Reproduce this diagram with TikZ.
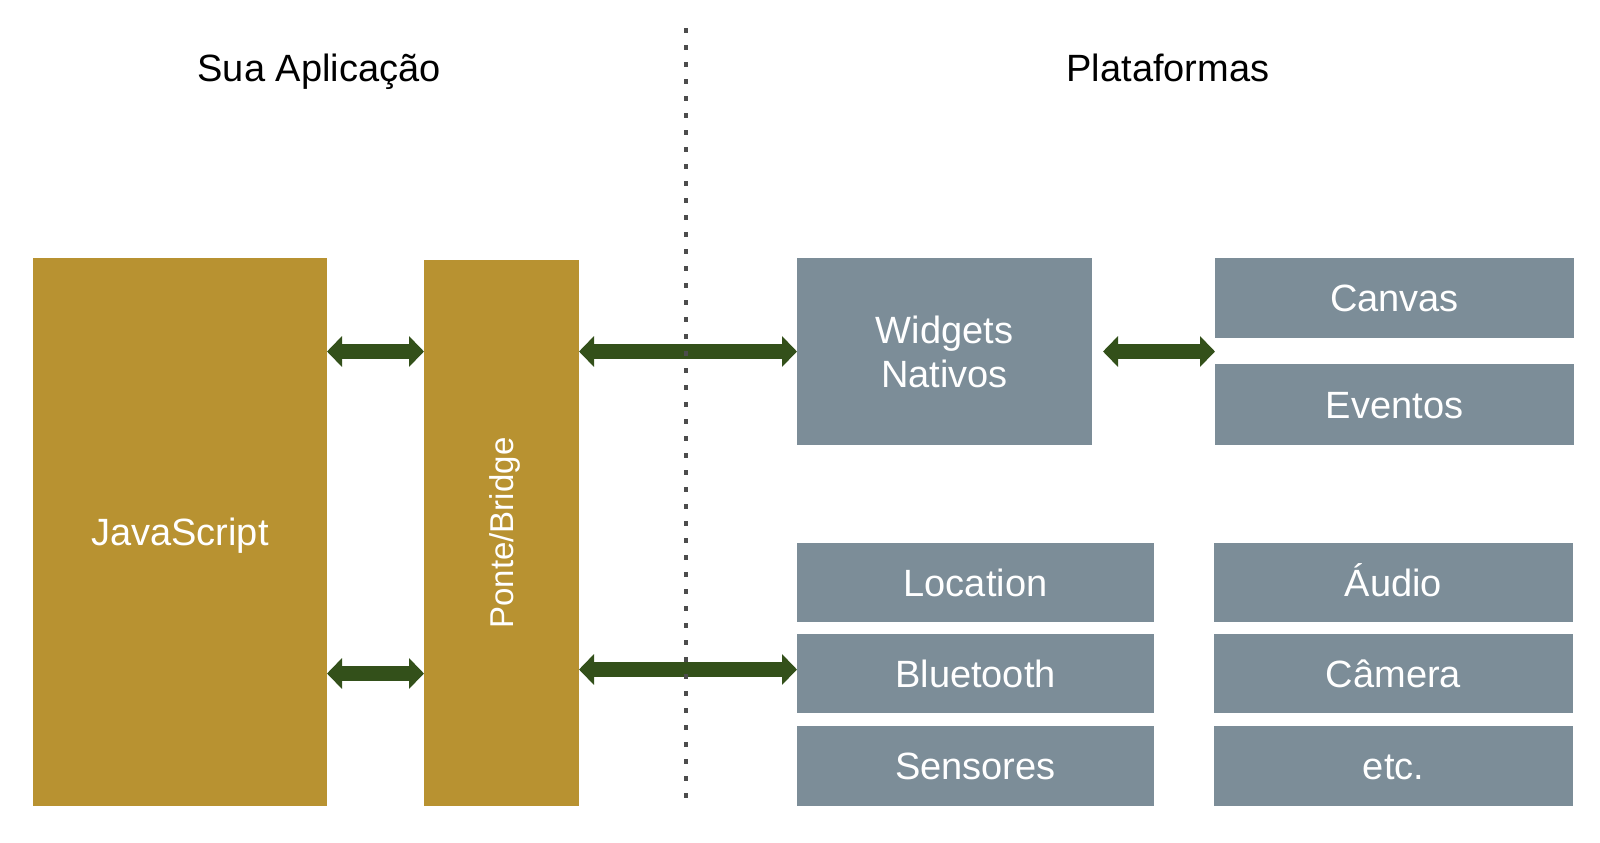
\documentclass[tikz,border=0pt]{standalone}
\usepackage{fontspec}
\setmainfont{Liberation Sans}
\usetikzlibrary{arrows.meta,positioning}
\definecolor{gold}{RGB}{184,146,49}
\definecolor{slate}{RGB}{124,141,152}
\definecolor{darkgreen}{RGB}{51,80,26}
\tikzset{
  block/.style={fill=#1, text=white, inner sep=0pt, outer sep=0pt, align=center,
    text height=13.6pt, text depth=0pt, font=\fontsize{19}{22}\selectfont},
  biarrow/.style={draw=darkgreen, line width=7.5pt,
    {Triangle[width=15pt,length=7.5pt]}-{Triangle[width=15pt,length=7.5pt]}},
  dotline/.style={draw=black!70, line width=2.4pt, dash pattern=on 2.4pt off 6.1pt}
}
\begin{document}
\begin{tikzpicture}[x=0.5pt, y=-0.5pt]
  \useasboundingbox (0,0) rectangle (1600,842);

  % Titles
  \node[anchor=base, font=\fontsize{19}{22}\selectfont] (app) at (319,81) {Sua Aplicação};
  \node[anchor=base, font=\fontsize{19}{22}\selectfont] (plat) at (1168,81) {Plataformas};

  % Application side
  \node[block=gold, minimum width=147pt, minimum height=274pt] (js) at (180,532) {JavaScript};
  \node[block=gold, minimum width=77.5pt, minimum height=273pt] (br) at (501.5,533) {};
  \node[text=white, rotate=90, inner sep=0pt, text height=11.8pt, text depth=0pt,
    font=\fontsize{16.5}{20}\selectfont] at (br.center) {Ponte/Bridge};

  % Platform side
  \node[block=slate, text height=, text depth=, minimum width=147.5pt, minimum height=93.5pt] (wid) at (944.5,351.5) {Widgets\\Nativos};
  \node[block=slate, minimum width=179.5pt, minimum height=40pt] (canvas) at (1394.5,298) {Canvas};
  \node[block=slate, minimum width=179.5pt, minimum height=40.5pt] (ev) at (1394.5,404.5) {Eventos};

  \node[block=slate, minimum width=178.5pt, minimum height=39.5pt] (loc) at (975.5,582.5) {Location};
  \node[block=slate, minimum width=178.5pt, minimum height=39.5pt] (blue) at (975.5,673.5) {Bluetooth};
  \node[block=slate, minimum width=178.5pt, minimum height=40pt] (sens) at (975.5,766) {Sensores};

  \node[block=slate, minimum width=179.5pt, minimum height=39.5pt] (audio) at (1393.5,582.5) {Áudio};
  \node[block=slate, minimum width=179.5pt, minimum height=39.5pt] (cam) at (1393.5,673.5) {Câmera};
  \node[block=slate, minimum width=179.5pt, minimum height=40pt] (etc) at (1393.5,766) {etc.};

  % Arrows
  \draw[biarrow] (js.east |- wid.west) -- (br.west |- wid.west);
  \draw[biarrow] (br.east |- wid.west) -- (wid.west);
  \draw[biarrow] ([xshift=5.5pt]wid.east) -- (wid.east -| canvas.west);
  \draw[biarrow] (js.east |- blue.west) -- (br.west |- blue.west);
  \draw[biarrow] ([yshift=2pt]br.east |- blue.west) -- ([yshift=2pt]blue.west);

  % Divider
  \coordinate (dtop) at (686,28);
  \coordinate (dbot) at (686,806);
  \draw[dotline] (dtop) -- (dbot);
\end{tikzpicture}
\end{document}
